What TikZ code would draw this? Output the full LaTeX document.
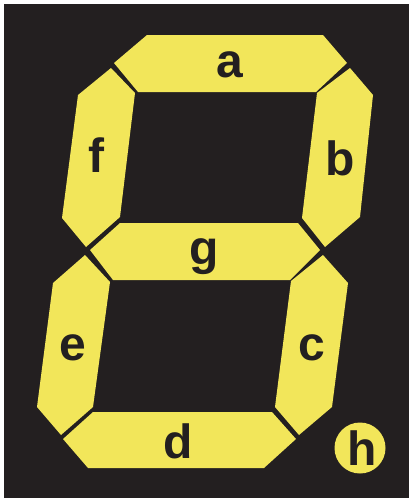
\documentclass[tikz,border=0pt]{standalone}
\usepackage{fontspec}
\setmainfont{Liberation Sans}
\definecolor{segyellow}{RGB}{242,230,90}
\definecolor{panel}{RGB}{35,31,32}
\begin{document}
\begin{tikzpicture}[x=1pt,y=-1pt,
  seg/.style={fill=segyellow,draw=none},
  lbl/.style={anchor=base,text=panel,inner sep=0pt,font=\fontsize{48}{48}\selectfont\bfseries}]
\useasboundingbox (0,0) rectangle (409,498);
\fill[white] (0,0) rectangle (409,498);
\fill[panel] (4,4) rectangle (409,498);
% segment a
\fill[seg] (147,35) -- (323,35) -- (347,63) -- (316,92) -- (138,92) -- (114,63) -- cycle;
% segment b
\fill[seg] (350,68) -- (373,95) -- (360,217) -- (325,247) -- (302,218) -- (317,93) -- cycle;
% segment f
\fill[seg] (111,68) -- (135,93) -- (120,217) -- (86,247) -- (62,218) -- (78,95) -- cycle;
% segment g
\fill[seg] (120,223) -- (298,223) -- (320,250) -- (290,280) -- (113,280) -- (90,250) -- cycle;
% segment e
\fill[seg] (85,255) -- (110,282) -- (93,407) -- (61,435) -- (37,407) -- (53,283) -- cycle;
% segment c
\fill[seg] (323,255) -- (348,283) -- (332,407) -- (299,435) -- (275,407) -- (291,281) -- cycle;
% segment d
\fill[seg] (93,412) -- (272,412) -- (296,439) -- (264,468) -- (88,468) -- (63,439) -- cycle;
% decimal point h
\fill[seg] (360,448) circle[radius=25.5];
% labels
\node[lbl] (la) at (230,77) {a};
\node[lbl] (lb) at (340,175) {b};
\node[lbl] (lf) at (96,172) {f};
\node[lbl] (lg) at (204,264) {g};
\node[lbl] (le) at (73,360) {e};
\node[lbl] (lc) at (312,360) {c};
\node[lbl] (ld) at (178,458) {d};
\node[lbl] (lh) at (362,465) {h};
\end{tikzpicture}
\end{document}
